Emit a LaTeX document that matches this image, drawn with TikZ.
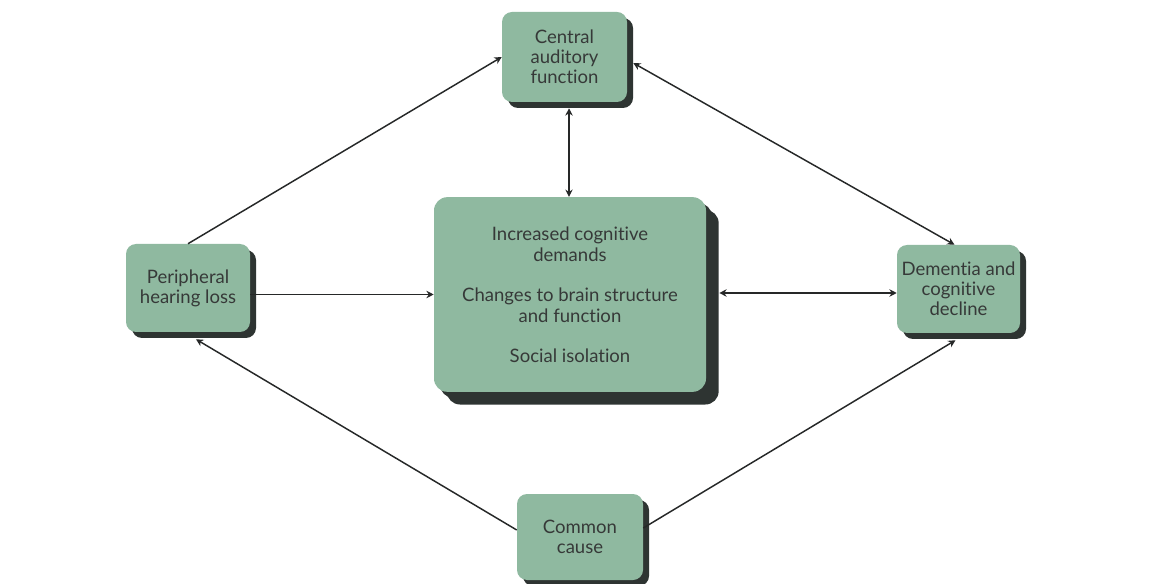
\documentclass[tikz,border=0pt]{standalone}
\usepackage{fontspec}
\setmainfont{Lato}[Ligatures={NoCommon,NoRare,NoDiscretionary}]
\usetikzlibrary{arrows.meta,shadows,calc}
\definecolor{boxfill}{HTML}{8FB9A0}
\definecolor{shadowc}{HTML}{2E3432}
\definecolor{txt}{HTML}{363938}
\definecolor{linec}{HTML}{262828}
\tikzset{
  box/.style={fill=boxfill, rounded corners=7.5pt, align=center, text=txt,
    font=\fontsize{13.9}{15}\selectfont, inner sep=0pt,
    drop shadow={shadow xshift=4.5pt, shadow yshift=-4.5pt, fill=shadowc, opacity=1}},
  bigbox/.style={box, rounded corners=10pt, font=\fontsize{13.9}{15.75}\selectfont,
    drop shadow={shadow xshift=9.5pt, shadow yshift=-9.5pt, fill=shadowc, opacity=1}},
  conn/.style={draw=linec, line width=1.1pt, -{Stealth[length=5.5pt,width=5.5pt]}},
  conn2/.style={draw=linec, line width=1.1pt, {Stealth[length=5.5pt,width=5.5pt]}-{Stealth[length=5.5pt,width=5.5pt]}}
}
\begin{document}
\begin{tikzpicture}[x=0.75pt,y=-0.75pt]
\useasboundingbox (0,0) rectangle (1159,584);
\fill[white] (0,0) rectangle (1159,584);
\node[box, minimum width=93.75pt, minimum height=67.5pt] (cent) at (564.5,57) {Central\\auditory\\function};
\node[bigbox, minimum width=204pt, minimum height=146pt] (big) at (570,294.5) {Increased cognitive\\demands\\[14.2pt]Changes to brain structure\\and function\\[14.2pt]Social isolation};
\node[box, minimum width=93pt, minimum height=66pt] (per) at (188,288) {Peripheral\\hearing loss};
\node[box, minimum width=92.25pt, minimum height=66pt] (dem) at (958.5,289) {Dementia and\\cognitive\\decline};
\node[box, minimum width=94.5pt, minimum height=64.5pt] (com) at (580,537) {Common\\cause};
\coordinate (bigR) at ([shift={(13,-1.5)}]big.east);
\coordinate (centS) at ([shift={(4.5,6)}]cent.south);
\draw[conn] (per.north) -- (cent.west);
\draw[conn2] ([shift={(6,6)}]cent.east) -- ([xshift=-3]dem.north);
\draw[conn2] (centS) -- (centS |- big.north);
\draw[conn] (per.east |- big.west) -- (big.west);
\draw[conn2] (bigR) -- (dem.west |- bigR);
\draw[conn] ([shift={(0,-7)}]com.west) -- ([shift={(8,7)}]per.south);
\draw[conn] ([shift={(0,-9)}]com.east) -- ([shift={(-3,7)}]dem.south);
\end{tikzpicture}
\end{document}
